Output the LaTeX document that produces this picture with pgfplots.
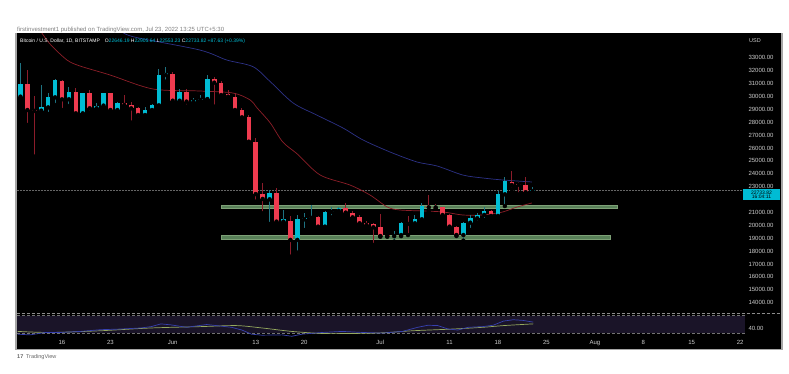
\documentclass[border=0pt]{standalone}
\usepackage{fontspec}
\setmainfont{Liberation Sans}
\usepackage{pgfplots}
\pgfplotsset{compat=1.18}
\usepackage{pgfplotstable}

\definecolor{upc}{RGB}{0,188,212}
\definecolor{dnc}{RGB}{239,59,79}
\definecolor{upw}{RGB}{30,115,130}
\definecolor{dnw}{RGB}{140,28,42}
\definecolor{maA}{RGB}{140,30,40}
\definecolor{maB}{RGB}{45,50,135}
\definecolor{zone}{RGB}{88,128,88}
\definecolor{zoneb}{RGB}{125,160,118}
\definecolor{lbl}{RGB}{205,205,205}
\definecolor{band}{RGB}{26,20,40}
\definecolor{rsil}{RGB}{55,65,175}
\definecolor{rsim}{RGB}{150,170,95}

% up candles: d = days since 16 May 2022
\pgfplotstableread{
d o h l c
-6 29985 32620 29730 30942
-3 28900 30890 28640 29150
-2 29150 30240 28640 29930
-1 29930 31380 29340 31280
1 29780 30710 29260 30370
3 28690 30290 28640 30240
5 29080 29470 29000 29290
6 29290 30300 29080 30240
8 28950 29600 28640 29520
12 28560 29160 28500 28950
13 28950 29390 28900 29310
14 29310 32100 29260 31670
15 31670 32310 31150 31800
17 29670 30550 29520 30370
19 29600 29860 29340 29730
20 29730 30120 29600 29800
21 29800 31670 29730 31330
30 22020 22745 20108 22487
32 20290 21190 20210 20470
34 18870 20800 17880 20470
35 20470 20990 19640 20580
36 20580 21580 20290 20680
38 19900 21120 19850 21040
39 21040 21450 20630 21120
40 21120 21450 20900 21370
48 19170 19590 18740 19250
49 19250 20290 19170 20210
51 20160 20800 19900 20470
52 20470 21760 20370 21500
58 19250 20290 18810 20210
59 20210 20800 19640 20550
60 20550 20990 20210 20810
61 20810 21450 20420 21120
63 20730 22690 20680 22430
64 22410 23780 21500 23440
68 22650 22950 22410 22734
}\upT

% down candles
\pgfplotstableread{
d o h l c
-5 30942 32054 27787 28950
-4 28950 30037 25330 28880
0 31230 31300 28950 29780
2 30370 30630 28560 28690
4 30240 30500 28740 29080
7 30240 30300 28740 28950
9 29520 30120 29210 29340
10 29340 29600 27970 29080
11 29080 29150 28230 28560
16 31740 31920 29520 29670
18 30370 30550 29210 29600
22 31330 31490 29210 31070
23 31070 31230 29930 30110
24 30190 30500 29850 29985
25 29985 30240 28900 28950
26 28950 29080 28300 28380
27 28430 28560 26420 26490
28 26490 26750 21840 22430
29 22410 23260 20935 22050
31 22490 22870 20210 20290
33 20370 20730 17570 18870
37 20680 20730 19690 19900
41 21370 21760 20950 20990
42 20990 21140 20550 20620
43 20620 20810 20110 20160
44 20160 20340 19770 20030
45 20080 20210 18480 19850
46 19850 20880 19120 19170
47 19230 19330 19120 19170
50 20210 20730 19250 20110
53 21500 22360 21070 21400
54 21450 21650 21300 21390
55 21400 21450 20730 20800
56 20810 20860 19850 19900
57 19900 19950 19180 19250
62 21120 21200 20680 20730
65 23390 24240 22800 23130
66 23230 23390 22410 23160
67 23160 23730 22430 22570
}\dnT

\begin{document}
\begin{tikzpicture}[x=1pt,y=1pt]
\fill[white] (0,0) rectangle (789,374);
\fill[black] (16.5,24.5) rectangle (781,341);
\fill[black!35] (15,24.5) rectangle (16.5,341);
\fill[black!35] (781,24.5) rectangle (782.5,341);
\fill[black!35] (15,23.5) rectangle (782.5,24.5);

% main price pane
\begin{axis}[
  at={(16.5pt,61pt)}, anchor=south west,
  width=728.5pt, height=279pt, scale only axis,
  xmin=-6.575, xmax=98.7, ymin=13202, ymax=34847,
  axis line style={draw=none}, major tick length=0pt,
  xtick=\empty,
  ytick={14000,15000,16000,17000,18000,19000,20000,21000,23000,24000,25000,26000,27000,28000,29000,30000,31000,32000,33000},
  scaled y ticks=false,
  yticklabel pos=right,
  yticklabel={\pgfmathprintnumber[fixed, fixed zerofill, precision=2, 1000 sep={}, assume math mode=true]{\tick}},
  tick label style={font=\fontsize{6}{7}\selectfont, text=lbl},
  clip=true,
]
% support / resistance zones
\addplot[fill=zone, draw=zoneb, line width=0.6pt] coordinates {(23,21348) (80.2,21348) (80.2,21581) (23,21581)} -- cycle;
\addplot[fill=zone, draw=zoneb, line width=0.6pt] coordinates {(23,18920) (79.2,18920) (79.2,19230) (23,19230)} -- cycle;
% last price line
\addplot[densely dotted, color=black!60, line width=0.5pt] coordinates {(-6.575,22734) (98.7,22734)};
% moving averages
\addplot[maA, line width=0.7pt, smooth] coordinates {
(-3.2,35160) (-1.73,34071) (0.72,32830) (2.6,32365) (6.94,31667) (13.15,30580)
(19.9,30425) (24.7,30270) (27.2,29727) (28.2,29106) (30.1,27943) (31.9,26469)
(34.0,25538) (37.3,23908) (41.6,23133) (44.5,22357) (47.0,21426) (48.8,21194)
(52.2,21116) (55.1,21038) (57.9,20806) (60.8,20806) (62.9,20961) (63.7,21038)
(65.8,21426) (67.9,21736)};
\addplot[maB, line width=0.7pt, smooth] coordinates {
(8.4,35165) (10.26,34638) (19.9,33606) (23.8,32830) (27.6,32310) (30.1,31147)
(33.4,29494) (36.8,28563) (40.6,27555) (43.5,26624) (47.4,25693) (51.3,24917)
(54.2,24607) (57.9,23908) (60.8,23676) (63.7,23521) (67.9,23366)};
% wicks
\addplot[only marks, mark=none, mark options={draw=none,fill=none}, forget plot, error bars/.cd, y dir=plus, y explicit, error mark=none,
  error bar style={draw=upw, line width=0.9pt}]
  table[x=d, y=l, y error expr=\thisrow{h}-\thisrow{l}] {\upT};
\addplot[only marks, mark=none, mark options={draw=none,fill=none}, forget plot, error bars/.cd, y dir=plus, y explicit, error mark=none,
  error bar style={draw=dnw, line width=0.9pt}]
  table[x=d, y=l, y error expr=\thisrow{h}-\thisrow{l}] {\dnT};
% bodies
\addplot[only marks, mark=none, mark options={draw=none,fill=none}, forget plot, error bars/.cd, y dir=plus, y explicit, error mark=none,
  error bar style={draw=upc, line width=4.6pt}]
  table[x=d, y=o, y error expr=\thisrow{c}-\thisrow{o}] {\upT};
\addplot[only marks, mark=none, mark options={draw=none,fill=none}, forget plot, error bars/.cd, y dir=plus, y explicit, error mark=none,
  error bar style={draw=dnc, line width=4.6pt}]
  table[x=d, y=c, y error expr=\thisrow{o}-\thisrow{c}] {\dnT};
\end{axis}

% RSI pane
\begin{axis}[
  at={(16.5pt,37pt)}, anchor=south west,
  width=728.5pt, height=24pt, scale only axis,
  xmin=-6.575, xmax=98.7, ymin=21.6, ymax=76.1,
  axis line style={draw=none}, major tick length=0pt,
  xtick={0,7,16,28,35,46,56,63,70,77,84,91,98},
  xticklabels={16,23,Jun,13,20,Jul,11,18,25,Aug,8,15,22},
  ytick={40}, yticklabels={40.00},
  yticklabel pos=right,
  tick label style={font=\fontsize{6}{7}\selectfont, text=lbl},
  clip=true,
]
\addplot[fill=band, draw=none] coordinates {(-6.575,30) (98.7,30) (98.7,70) (-6.575,70)} -- cycle;
\addplot[densely dashed, color=black!55, line width=0.5pt] coordinates {(-6.575,70) (98.7,70)};
\addplot[densely dashed, color=black!55, line width=0.5pt] coordinates {(-6.575,30) (98.7,30)};
\addplot[rsim, line width=0.7pt, smooth] coordinates {
(-6.4,34.3) (-1.7,31.9) (5.6,35.8) (12.9,42.1) (20.1,45.2) (25.2,47.5) (28.9,42.1)
(33.2,34.3) (37.6,29.6) (41.9,29.6) (46.3,31.1) (50.7,35.8) (56.5,39.7) (60.8,43.6)
(63.8,47.5) (68.1,51.4)};
\addplot[rsil, line width=0.7pt] coordinates {
(-6.4,28.0) (-4.6,26.4) (-2.4,31.9) (-0.2,31.9) (2.7,34.3) (5.6,38.2) (8.5,39.7)
(11.4,42.1) (12.9,45.2) (14.3,51.4) (15.8,49.0) (18,43.6) (20.9,49.9) (22.3,47.5)
(24.5,43.6) (26,37.4) (27.4,28.0) (28.9,25.7) (31.8,26.4) (33.2,23.3) (34.7,28.0)
(37.6,31.9) (40.5,34.3) (43.4,31.9) (46.3,30.4) (49.2,34.3) (51.4,43.6) (52.9,48.3)
(54.3,47.5) (55.8,39.7) (57.2,37.4) (58.7,43.6) (60.8,45.2) (62.3,48.3) (63.8,57.7)
(65.2,60.8) (66.6,59.3) (68.1,55.4)};
\end{axis}

% pane separator
\draw[black!45, densely dashed, line width=0.5pt] (16.5,61) -- (781,61);

% price box
\fill[upc] (743,173.5) rectangle (780,185);
\node[font=\fontsize{5}{5.5}\selectfont, text=black, align=center, inner sep=0pt] at (761.5,179.25) {22733.82\\[-0.8pt]16:04:11};

% header texts
\node[anchor=west, font=\fontsize{6}{7}\selectfont, text=black!50, inner sep=0pt] at (17,344.5) {firstinvestment1 published on TradingView.com, Jul 23, 2022 13:25 UTC+5:30};
\node[anchor=west, font=\fontsize{5}{6}\selectfont, text=white, inner sep=0pt] at (20,333) {Bitcoin / U.S. Dollar, 1D, BITSTAMP\quad O\textcolor{upc}{22646.19} H\textcolor{upc}{22905.64} L\textcolor{upc}{22553.23} C\textcolor{upc}{22733.82 +87.63 (+0.39\%)}};
\node[anchor=west, font=\fontsize{5.5}{6}\selectfont, text=lbl, inner sep=0pt] at (749,333) {USD};
\node[anchor=west, font=\fontsize{5.5}{6}\selectfont, text=black!60, inner sep=0pt] at (17,17) {\textbf{17}\enspace TradingView};
\end{tikzpicture}
\end{document}
